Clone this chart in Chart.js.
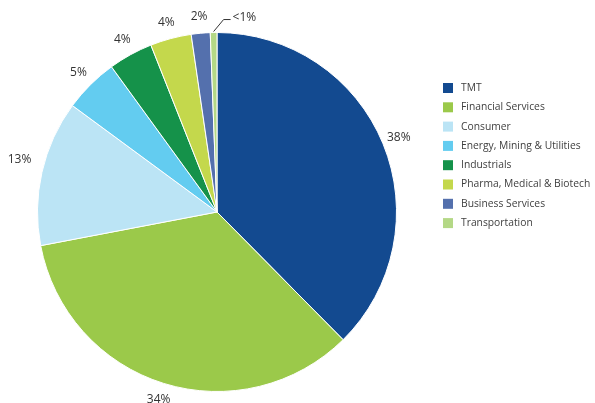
<!DOCTYPE html>
<html>
<head>
<meta charset="utf-8">
<script src="https://cdn.jsdelivr.net/npm/chart.js@4.4.1/dist/chart.umd.min.js"></script>
<style>
  html, body { margin: 0; padding: 0; background: #fff; }
  #wrap { position: relative; width: 595px; height: 403px; }
</style>
</head>
<body>
<div id="wrap"><canvas id="graficoSetores"></canvas></div>
<script>
// Setores e participação (%)
const setores = ['TMT', 'Financial Services', 'Consumer', 'Energy, Mining & Utilities',
  'Industrials', 'Pharma, Medical & Biotech', 'Business Services', 'Transportation'];
const participacao = [37.6, 34.4, 13.1, 4.9, 4.0, 3.7, 1.7, 0.6];
const rotulos = ['38%', '34%', '13%', '5%', '4%', '4%', '2%', '<1%'];
const cores = ['#134a90', '#9bc94a', '#bbe4f5', '#63ccf0', '#15924a', '#c4d84c', '#5470ad', '#b4d886'];

const fonte = '"Open Sans", "Noto Sans", sans-serif';

// Rótulos de porcentagem fora das fatias
const rotulosPlugin = {
  id: 'rotulosFora',
  afterDatasetsDraw(chart) {
    const ctx = chart.ctx;
    const meta = chart.getDatasetMeta(0);
    ctx.save();
    ctx.font = '12px ' + fonte;
    ctx.fillStyle = '#333333';
    ctx.textBaseline = 'middle';
    meta.data.forEach((arc, i) => {
      const p = arc.getProps(['x', 'y', 'startAngle', 'endAngle', 'outerRadius'], true);
      const meio = (p.startAngle + p.endAngle) / 2;
      if (i === meta.data.length - 1) {
        // fatia pequena: linha de chamada
        const x0 = p.x + (p.outerRadius + 1) * Math.cos(meio);
        const y0 = p.y + (p.outerRadius + 1) * Math.sin(meio);
        ctx.strokeStyle = '#333333';
        ctx.lineWidth = 1;
        ctx.beginPath();
        ctx.moveTo(x0, y0);
        ctx.lineTo(x0 + 10, y0 - 12);
        ctx.lineTo(x0 + 17, y0 - 12);
        ctx.stroke();
        ctx.textAlign = 'left';
        ctx.fillText(rotulos[i], x0 + 19, y0 - 14);
        return;
      }
      let r = p.outerRadius + 17;
      if (i === 2) r += 6; // Consumer um pouco mais afastado, como no original
      ctx.textAlign = 'center';
      ctx.fillText(rotulos[i], p.x + r * Math.cos(meio), p.y + r * Math.sin(meio) - (i === 2 ? 8 : 0));
    });
    ctx.restore();
  }
};

// Legenda desenhada à direita
const legendaPlugin = {
  id: 'legendaDireita',
  afterDraw(chart) {
    const ctx = chart.ctx;
    ctx.save();
    ctx.font = '10.3px ' + fonte;
    ctx.textBaseline = 'middle';
    ctx.textAlign = 'left';
    setores.forEach((nome, i) => {
      const y = 88 + i * 19.3;
      ctx.fillStyle = cores[i];
      ctx.fillRect(443, y - 5, 10, 10);
      ctx.fillStyle = '#404040';
      ctx.fillText(nome, 461, y);
    });
    ctx.restore();
  }
};

const ctx = document.getElementById('graficoSetores').getContext('2d');
const graficoSetores = new Chart(ctx, {
  type: 'pie',
  data: {
    labels: setores,
    datasets: [{
      data: participacao,
      backgroundColor: cores,
      borderColor: '#ffffff',
      borderWidth: 1
    }]
  },
  options: {
    responsive: true,
    maintainAspectRatio: false,
    animation: false,
    layout: { padding: { top: 32, bottom: 11, left: 37, right: 198 } },
    plugins: {
      legend: { display: false },
      tooltip: { enabled: false }
    }
  },
  plugins: [rotulosPlugin, legendaPlugin]
});
</script>
</body>
</html>
